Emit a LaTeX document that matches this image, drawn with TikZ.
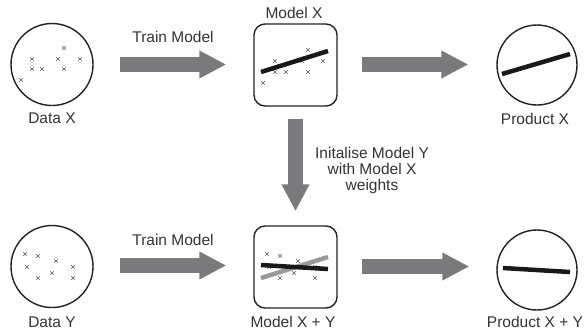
\documentclass[tikz,border=0pt]{standalone}
\usepackage{fontspec}
\setmainfont{Liberation Sans}
\usetikzlibrary{arrows.meta,calc}
\definecolor{arrgray}{HTML}{7A7A7C}
\definecolor{txt}{HTML}{333333}
\definecolor{edge}{HTML}{222222}
\definecolor{crossc}{HTML}{555555}
\definecolor{fitgray}{HTML}{9A9A9A}
\tikzset{
  lbl/.style={font=\fontsize{15.5}{18}\selectfont, text=txt, inner sep=0pt},
  disc/.style={circle, draw=edge, line width=1.4pt, minimum size=82pt, inner sep=0pt},
  boxnode/.style={rectangle, rounded corners=11pt, draw=edge, line width=1.4pt, minimum width=83pt, minimum height=82pt, inner sep=0pt},
  bigarr/.style={draw=arrgray, line width=15pt, -{Triangle[length=27pt,width=26pt,fill=arrgray]}},
  fitline/.style={line width=4.5pt, draw=black!90}
}
\newcommand{\xmark}[2]{\draw[crossc, line width=0.55pt] (#1-1.7,#2-1.7) -- (#1+1.7,#2+1.7) (#1-1.7,#2+1.7) -- (#1+1.7,#2-1.7);}
\begin{document}
\begin{tikzpicture}[x=1pt,y=-1pt]
\useasboundingbox (0,0) rectangle (585,333);
% nodes
\node[disc] (datax) at (52,64.5) {};
\node[lbl] (datax-l) at (52,118) {Data X};
\node[boxnode] (modelx) at (295.5,65) {};
\node[lbl] (modelx-l) at (294,13) {Model X};
\node[disc, minimum size=80pt] (prodx) at (537,65) {};
\node[lbl] (prodx-l) at (535,119) {Product X};

\node[disc] (datay) at (52,266.5) {};
\node[lbl] (datay-l) at (52,322) {Data Y};
\node[boxnode] (modelxy) at (295.5,267) {};
\node[lbl] (modelxy-l) at (293,322) {Model X + Y};
\node[disc, minimum size=80pt] (prodxy) at (537,270) {};
\node[lbl] (prodxy-l) at (535,322) {Product X + Y};

\node[lbl] (train1) at (173,37) {Train Model};
\node[lbl] (train2) at (173,240) {Train Model};
\node[lbl, align=center, font=\fontsize{15.5}{16}\selectfont] (init) at (372,170) {Initalise Model Y\\with Model X\\weights};

% arrows (yshift is in canvas direction: positive = up)
\draw[bigarr] ([xshift=26pt]datax.east) -- ([xshift=-27pt,yshift=0.5pt]modelx.west);
\draw[bigarr] ([xshift=24pt,yshift=0.5pt]modelx.east) -- ([xshift=-28pt,yshift=0.5pt]prodx.west);
\draw[bigarr] ([xshift=26pt,yshift=1pt]datay.east) -- ([xshift=-27pt,yshift=1.5pt]modelxy.west);
\draw[bigarr] ([xshift=24pt,yshift=0.5pt]modelxy.east) -- ([xshift=-27pt,yshift=3.5pt]prodxy.west);
\draw[bigarr] ([yshift=-12pt]modelx.south) -- ([yshift=14pt]modelxy.north);

% data X crosses
\foreach \a/\b in {64/48,32/59,58/59,80/59,32/69,42/69,64/69,21/80}{\xmark{\a}{\b}}
% model X crosses
\foreach \a/\b in {308/50,275/61,302/61,323/61,275/72,286/72,308/72,263/83}{\xmark{\a}{\b}}
\draw[fitline] (261,72) -- (328,51);
% product X
\draw[fitline] (502,74) -- (570,54);

% data Y crosses
\foreach \a/\b in {25/254,38/256,56/261,27/267,73/267,52/273,38/278,73/278}{\xmark{\a}{\b}}
% model X+Y crosses
\foreach \a/\b in {267/254,280/256,298/261,269/267,315/267,294/273,280/278,315/278}{\xmark{\a}{\b}}
\draw[line width=4.5pt, draw=fitgray] (261,278) -- (328,257);
\draw[fitline] (261,265) -- (328,269);
% product X+Y
\draw[fitline] (503,268) -- (570,272);
\end{tikzpicture}
\end{document}
